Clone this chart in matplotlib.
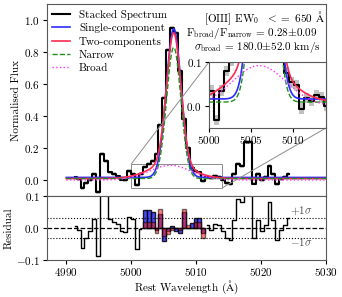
import numpy as np
import matplotlib
matplotlib.use('Agg')
import matplotlib.pyplot as plt
from mpl_toolkits.axes_grid1.inset_locator import mark_inset

plt.rcParams['font.family'] = ['cmr10', 'DejaVu Serif']
plt.rcParams['mathtext.fontset'] = 'cm'
plt.rcParams['axes.formatter.use_mathtext'] = True
plt.rcParams['font.size'] = 8
plt.rcParams['xtick.major.size'] = 3
plt.rcParams['ytick.major.size'] = 3
plt.rcParams['xtick.major.pad'] = 1.5
plt.rcParams['ytick.major.pad'] = 2

# ---------------- data ----------------
wave_start = 4991.3
bin_width = 0.6
flux = [0.016, 0.005, -0.052, -0.021, 0.002, 0.037, -0.077, 0.16, 0.12, 0.047,
        0.035, 0.022, 0.003, 0.002, 0.057, 0.035, -0.032, 0.035, 0.080, 0.102,
        0.12, 0.16, 0.346, 0.51, 0.81, 0.95, 0.92, 0.68, 0.38, 0.20,
        0.076, 0.054, 0.047, -0.006, 0.018, 0.011, 0.025, 0.02, 0.0, -0.02,
        -0.027, 0.035, 0.10, 0.09, 0.24, 0.24, -0.022, 0.035, 0.002, 0.02,
        0.09, 0.035, -0.027, 0.004, 0.02, 0.04]
flux_err = 0.012

resid = [0.006, -0.005, -0.062, -0.031, -0.008, 0.027, -0.087, 0.15, 0.11, 0.027,
         0.02, 0.012, -0.01, -0.013, 0.033, 0.027, -0.065, -0.002]
resid_right = [0.01, -0.005, 0.013, 0.008, -0.01, -0.03, -0.037, 0.025, 0.09, 0.08,
               0.23, 0.23, -0.032, 0.025, -0.008, 0.01, 0.082, 0.025, -0.037, -0.006,
               0.01, 0.03]
core_first = 18
resid_single_core = [0.056, 0.056, 0.05, -0.005, 0.045, -0.04, -0.01, 0.005,
                     -0.01, -0.015, 0.05, 0.0, 0.015, 0.03, 0.03, -0.015]
resid_two_core = [0.02, 0.02, 0.02, -0.015, 0.06, -0.025, -0.02, -0.005,
                  0.0, -0.005, 0.06, 0.01, 0.0, 0.02, 0.02, -0.03]

# Gaussian fit parameters: amplitude, centre, sigma, continuum
single_par = [0.93, 5006.55, 1.15, 0.016]
narrow_par = [0.82, 5006.55, 1.10, 0.009]
broad_par = [0.092, 5006.0, 3.2, 0.0]

# ---------------- derived ----------------
flux = np.array(flux)
nb = len(flux)
wave = wave_start + bin_width * np.arange(nb)
xm = np.linspace(4990, 5030, 1200)

def gauss(x, a, c, s, cont):
    return cont + a * np.exp(-0.5 * ((x - c) / s) ** 2)

m_single = gauss(xm, *single_par)
m_narrow = gauss(xm, *narrow_par)
m_broad = gauss(xm, *broad_par)
m_two = m_narrow + m_broad

c_blue = '#2b2bff'
c_red = '#ff2a50'
c_green = '#1f8f1f'
c_mag = '#ff33ff'

fig = plt.figure(figsize=(3.42, 2.97), dpi=100)
ax = fig.add_axes([0.137, 0.340, 0.816, 0.6465])
axr = fig.add_axes([0.137, 0.1246, 0.816, 0.2155], sharex=ax)

def draw_main(a, lw_spec=1.5):
    a.fill_between(wave, flux - flux_err, flux + flux_err, step='mid',
                   color='0.6', alpha=0.6, lw=0)
    a.step(wave, flux, where='mid', color='k', lw=lw_spec, label='Stacked Spectrum')
    a.plot(xm, m_single, color=c_blue, lw=1.2, label='Single-component')
    a.plot(xm, m_two, color=c_red, lw=1.2, label='Two-components')
    a.plot(xm, m_narrow, color=c_green, lw=1.0, ls='--', label='Narrow')
    a.plot(xm, m_broad, color=c_mag, lw=1.0, ls=':', label='Broad')

draw_main(ax)
ax.set_xlim(4987, 5030)
ax.set_ylim(-0.1, 1.1)
ax.set_yticks([0.0, 0.2, 0.4, 0.6, 0.8, 1.0])
ax.tick_params(labelbottom=False, bottom=False)
ax.set_ylabel('Normalised Flux', labelpad=2)
ax.legend(loc='upper left', frameon=False, fontsize=8, handlelength=1.6,
          borderaxespad=0.2, labelspacing=0.32, handletextpad=0.8,
          borderpad=0.3)

ax.text(0.997, 0.928, r'[OIII] EW$_0$  $<=$ 650 $\mathrm{\AA}$', transform=ax.transAxes,
        ha='right', va='center')
ax.text(0.970, 0.848, r'F$_{\rm broad}$/F$_{\rm narrow}$ = 0.28$\pm$0.09',
        transform=ax.transAxes, ha='right', va='center')
ax.text(0.980, 0.772, r'$\sigma_{\rm broad}$ = 180.0$\pm$52.0 km/s',
        transform=ax.transAxes, ha='right', va='center')

# inset
axins = fig.add_axes([0.611, 0.569, 0.342, 0.222])
draw_main(axins)
axins.set_xlim(5000, 5014)
axins.set_ylim(-0.05, 0.1)
axins.set_xticks([5000, 5005, 5010])
axins.set_yticks([0.0, 0.1])
mark_inset(ax, axins, loc1=2, loc2=4, fc='none', ec='0.55', lw=0.7)

# residual panel
wl = wave[:core_first]
axr.step(wl, resid, where='mid', color='k', lw=1.0)
ncore = len(resid_two_core)
wc = wave[core_first:core_first + ncore]
wr = wave[core_first + ncore:]
axr.step(wr, resid_right, where='mid', color='k', lw=1.0)
axr.bar(wc, resid_single_core, width=bin_width, color=c_blue, alpha=0.85,
        edgecolor='k', lw=1.0)
axr.bar(wc, resid_two_core, width=bin_width, color='#ff2020', alpha=0.55,
        edgecolor='k', lw=1.0)
axr.axhline(0, color='k', ls='--', lw=0.9)
axr.axhline(0.03, color='k', ls=':', lw=0.8)
axr.axhline(-0.03, color='k', ls=':', lw=0.8)
axr.text(5026.2, 0.055, r'$+1\sigma$', ha='center', va='center', color='0.3')
axr.text(5026.2, -0.043, r'$-1\sigma$', ha='center', va='center', color='0.3')
axr.set_ylim(-0.1, 0.1)
axr.set_yticks([-0.1, 0.0, 0.1])
axr.set_xticks([4990, 5000, 5010, 5020, 5030])
axr.set_xlim(4987, 5030)
axr.set_ylabel('Residual', labelpad=2)
axr.set_xlabel(r'Rest Wavelength ($\mathrm{\AA}$)', labelpad=0)

for a in (ax, axr, axins):
    for s in a.spines.values():
        s.set_color('0.35')
        s.set_linewidth(0.8)

fig.savefig('out.png', dpi=100)
